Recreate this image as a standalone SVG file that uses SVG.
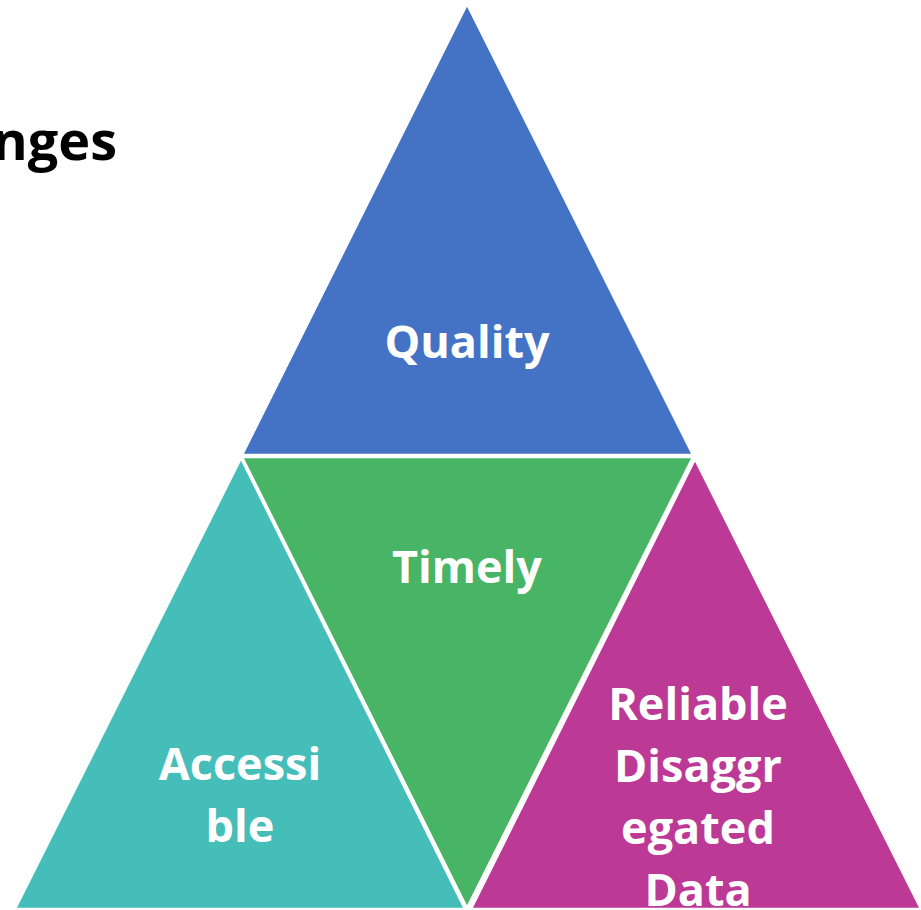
<svg xmlns="http://www.w3.org/2000/svg" width="921" height="910" viewBox="0 0 921 910">
<style>
.tri{stroke:#ffffff;stroke-width:2.5;stroke-linejoin:miter}
.lbl{font-family:"Open Sans",Lato,"Liberation Sans",sans-serif;font-weight:bold;font-size:45px;fill:#ffffff;text-anchor:middle}
.title{font-family:"Open Sans",Lato,"Liberation Sans",sans-serif;font-weight:bold;font-size:54px;fill:#000000}
</style>
<rect width="921" height="910" fill="#ffffff"/>
<text class="title" x="117" y="160" text-anchor="end">nges</text>
<g id="quality">
<polygon class="tri" points="467,4 242,455 693,455" fill="#4472C4"/>
<text class="lbl" x="467" y="358">Quality</text>
</g>
<g id="timely">
<polygon class="tri" points="242,457 693,457 467,908" fill="#48B465"/>
<text class="lbl" x="467" y="583">Timely</text>
</g>
<g id="accessible">
<polygon class="tri" points="241,458 15,909 465,909" fill="#45BEB9"/>
<text class="lbl" x="240" y="780">Accessi</text>
<text class="lbl" x="240" y="842">ble</text>
</g>
<g id="reliable">
<polygon class="tri" points="695,459 471,909 921,909" fill="#BC3995"/>
<text class="lbl" x="698" y="720">Reliable</text>
<text class="lbl" x="698" y="782">Disaggr</text>
<text class="lbl" x="698" y="844">egated</text>
<text class="lbl" x="698" y="906">Data</text>
</g>
<g id="connectors"></g>
</svg>
